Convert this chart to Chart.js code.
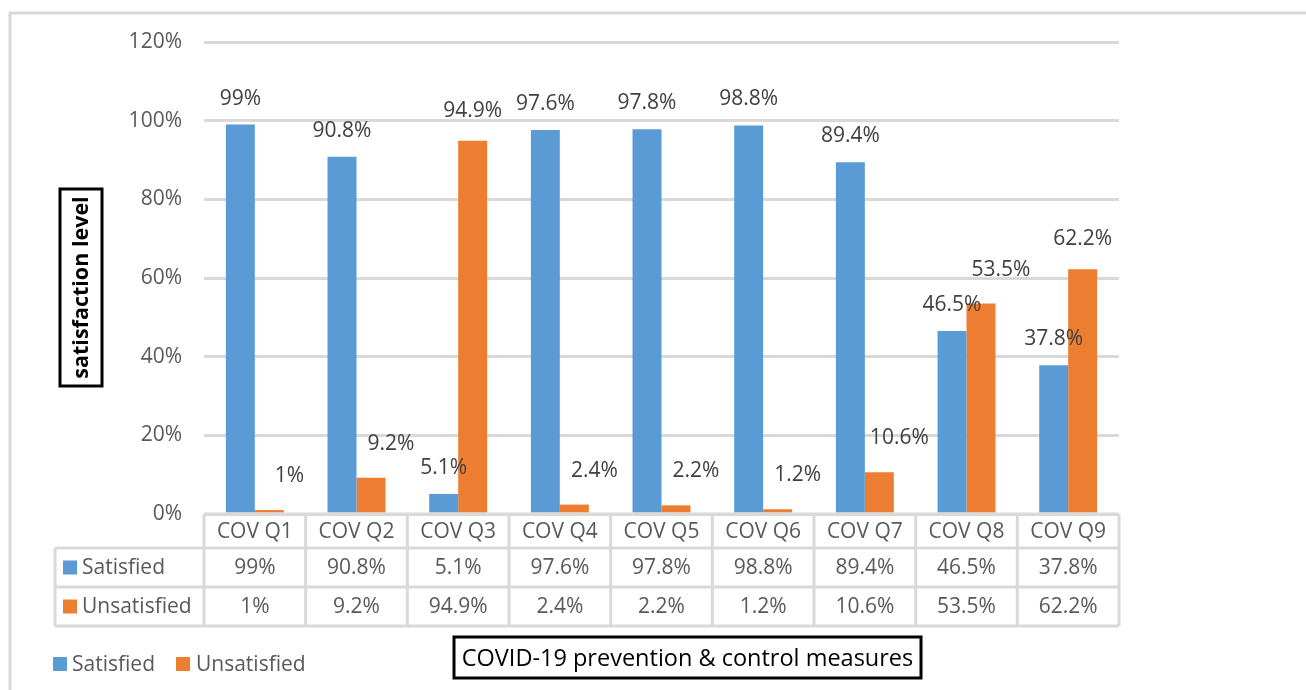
<!DOCTYPE html>
<html><head><meta charset="utf-8">
<script src="https://cdn.jsdelivr.net/npm/chart.js@4.4.1/dist/chart.umd.min.js"></script>
<style>html,body{margin:0;padding:0;background:#fff;overflow:hidden;} #wrap{width:1306px;height:690px;position:relative;}</style>
</head><body><div id="wrap"><canvas id="c" width="1306" height="690"></canvas></div>
<script>
// ---- data ----
const categories = ['COV Q1','COV Q2','COV Q3','COV Q4','COV Q5','COV Q6','COV Q7','COV Q8','COV Q9'];
const satisfied = [99, 90.8, 5.1, 97.6, 97.8, 98.8, 89.4, 46.5, 37.8];
const unsatisfied = [1, 9.2, 94.9, 2.4, 2.2, 1.2, 10.6, 53.5, 62.2];
const seriesNames = ['Satisfied', 'Unsatisfied'];
const yTickValues = [0, 20, 40, 60, 80, 100, 120];
const xTitle = 'COVID-19 prevention & control measures';
const yTitle = 'satisfaction level';

const COLORS = ['#5B9BD5', '#ED7D31'];
const FONT = '"Open Sans", "Noto Sans", sans-serif';
const GRID = '#d9d9d9';
const TXT = '#595959';
const pct = v => v + '%';

const extras = {
  id: 'extras',
  afterDatasetsDraw(chart) {
    const ctx = chart.ctx;
    ctx.save();
    ctx.font = '21px ' + FONT;
    ctx.fillStyle = '#404040';
    ctx.textAlign = 'center';
    ctx.textBaseline = 'middle';
    chart.data.datasets.forEach((ds, di) => {
      const meta = chart.getDatasetMeta(di);
      meta.data.forEach((bar, i) => {
        const v = ds.data[i];
        let dx = 0, dy = 26;
        if (di === 1) {
          if (v > 60) { dx = 0; dy = 30; } else { dx = 20; dy = 34; }
        }
        ctx.fillText(pct(v), bar.x + dx, bar.y - dy);
      });
    });
    ctx.restore();
  },
  afterDraw(chart) {
    const ctx = chart.ctx;
    const xs = chart.scales.x, ys = chart.scales.y;
    const n = categories.length;
    const L = xs.left, R = xs.right, w = (R - L) / n;
    const y0 = ys.getPixelForValue(0);
    const rows = [y0, y0 + 34, y0 + 73, y0 + 112];
    const tableLeft = 55;
    ctx.save();
    // outer frame (top + left visible)
    ctx.strokeStyle = GRID; ctx.lineWidth = 3;
    ctx.beginPath(); ctx.moveTo(10, 690); ctx.lineTo(10, 13); ctx.lineTo(1306, 13); ctx.stroke();
    // table lines
    ctx.beginPath();
    ctx.moveTo(L, rows[0]); ctx.lineTo(R, rows[0]);
    for (let r = 1; r < 4; r++) { ctx.moveTo(tableLeft, rows[r]); ctx.lineTo(R, rows[r]); }
    for (let i = 0; i <= n; i++) { ctx.moveTo(L + i * w, rows[0]); ctx.lineTo(L + i * w, rows[3]); }
    ctx.moveTo(tableLeft, rows[1]); ctx.lineTo(tableLeft, rows[3]);
    ctx.stroke();
    // table text
    ctx.font = '21px ' + FONT; ctx.fillStyle = TXT;
    ctx.textAlign = 'center'; ctx.textBaseline = 'middle';
    categories.forEach((c, i) => {
      const cx = L + (i + 0.5) * w;
      ctx.fillText(c, cx, (rows[0] + rows[1]) / 2 + 1);
      ctx.fillText(pct(satisfied[i]), cx, (rows[1] + rows[2]) / 2 + 1);
      ctx.fillText(pct(unsatisfied[i]), cx, (rows[2] + rows[3]) / 2 + 1);
    });
    ctx.textAlign = 'left';
    seriesNames.forEach((s, k) => {
      const cy = (rows[k + 1] + rows[k + 2]) / 2;
      ctx.fillStyle = COLORS[k]; ctx.fillRect(63, cy - 7, 14, 14);
      ctx.fillStyle = TXT; ctx.fillText(s, 82, cy + 1);
    });
    // bottom legend
    const ly = 664;
    ctx.fillStyle = COLORS[0]; ctx.fillRect(53, ly - 7, 14, 14);
    ctx.fillStyle = TXT; ctx.fillText(seriesNames[0], 72, ly + 1);
    ctx.fillStyle = COLORS[1]; ctx.fillRect(176, ly - 7, 14, 14);
    ctx.fillStyle = TXT; ctx.fillText(seriesNames[1], 196, ly + 1);
    // x title box
    ctx.strokeStyle = '#000'; ctx.lineWidth = 3;
    ctx.strokeRect(454, 637, 467, 41);
    ctx.fillStyle = '#000'; ctx.font = '23.5px ' + FONT; ctx.textAlign = 'center';
    ctx.fillText(xTitle, 687.5, 659);
    // y title box
    ctx.strokeRect(60, 189, 42, 197);
    ctx.translate(81, 287.5); ctx.rotate(-Math.PI / 2);
    ctx.font = 'bold 21.5px ' + FONT;
    ctx.fillText(yTitle, 0, 1);
    ctx.restore();
  }
};

new Chart(document.getElementById('c'), {
  type: 'bar',
  data: {
    labels: categories,
    datasets: [
      { label: seriesNames[0], data: satisfied, backgroundColor: COLORS[0], categoryPercentage: 0.57, barPercentage: 1.0 },
      { label: seriesNames[1], data: unsatisfied, backgroundColor: COLORS[1], categoryPercentage: 0.57, barPercentage: 1.0 }
    ]
  },
  options: {
    responsive: false,
    devicePixelRatio: 1,
    animation: false,
    layout: { padding: { left: 104, right: 187, top: 42, bottom: 176 } },
    plugins: { legend: { display: false }, tooltip: { enabled: false } },
    scales: {
      x: { display: false },
      y: {
        min: 0, max: 120,
        afterFit(s) { s.width = 100; },
        afterBuildTicks(s) { s.ticks = yTickValues.map(v => ({ value: v })); },
        grid: { color: GRID, lineWidth: 3, drawTicks: false },
        border: { display: false },
        ticks: { callback: v => v + '%', color: TXT, font: { family: FONT, size: 21 }, padding: 22 }
      }
    }
  },
  plugins: [extras]
});
</script></body></html>
